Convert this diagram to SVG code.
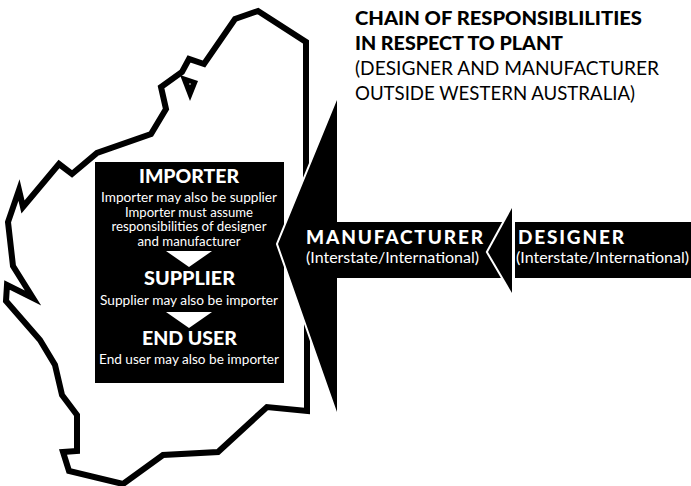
<svg xmlns="http://www.w3.org/2000/svg" width="691" height="486" viewBox="0 0 691 486">
<style>
text{font-family:Lato,"Noto Sans","Liberation Sans",sans-serif;text-anchor:middle}
.t{font-weight:900;font-size:18.5px;fill:#000;text-anchor:start}
.n{font-weight:400;font-size:18.5px;fill:#000;text-anchor:start}
.h{font-weight:900;font-size:19px;fill:#fff}
.b{font-size:13.5px;fill:#fff}
.s{font-weight:900;font-size:19px;fill:#fff;text-anchor:start}
.i{font-size:15px;fill:#fff;text-anchor:start}
.w{fill:#fff}
.a{fill:#000;stroke:#fff;stroke-width:4;paint-order:stroke;stroke-miterlimit:10}
</style>
<rect width="691" height="486" fill="#fff"/>
<g id="map"><path d="M306 190V42L258 11L235 19L204 64L189 59L182 72L161 87L166 109L151 134L97 153L72 174L59 164L23 207L19 190L8 222L13 266L33 298L7 285L6 301L40 340L55 365L62 395L77 415V451L63 452L69 471L123 484L163 455L218 452L267 407L307 411V320" fill="none" stroke="#000" stroke-width="6" stroke-linejoin="miter" stroke-miterlimit="6"/>
<path d="M180 75L198 81L190 101Z" fill="#000"/><circle cx="190" cy="84" r="0.8" fill="#fff"/></g>
<g id="title"><text class="t" x="355" y="25" textLength="287" lengthAdjust="spacingAndGlyphs">CHAIN OF RESPONSIBLILITIES</text>
<text class="t" x="355" y="50" textLength="208" lengthAdjust="spacingAndGlyphs">IN RESPECT TO PLANT</text>
<text class="n" x="355" y="75" textLength="304" lengthAdjust="spacingAndGlyphs">(DESIGNER AND MANUFACTURER</text>
<text class="n" x="355" y="100" textLength="280" lengthAdjust="spacingAndGlyphs">OUTSIDE WESTERN AUSTRALIA)</text></g>
<g id="box"><rect x="95" y="162" width="189" height="221" fill="#000"/>
<text class="h" x="189" y="183" textLength="100" lengthAdjust="spacingAndGlyphs">IMPORTER</text>
<text class="b" x="189" y="202" textLength="176" lengthAdjust="spacingAndGlyphs">Importer may also be supplier</text>
<text class="b" x="189" y="216.6" textLength="128" lengthAdjust="spacingAndGlyphs">Importer must assume</text>
<text class="b" x="189" y="231.2" textLength="155" lengthAdjust="spacingAndGlyphs">responsibilities of designer</text>
<text class="b" x="189" y="245.8" textLength="103" lengthAdjust="spacingAndGlyphs">and manufacturer</text>
<path class="w" d="M166 251H212L189 267Z"/>
<text class="h" x="189.500" y="285" textLength="91" lengthAdjust="spacingAndGlyphs">SUPPLIER</text>
<text class="b" x="189" y="305" textLength="178" lengthAdjust="spacingAndGlyphs">Supplier may also be importer</text>
<path class="w" d="M166 312H212L189 328Z"/>
<text class="h" x="189.500" y="345" textLength="95" lengthAdjust="spacingAndGlyphs">END USER</text>
<text class="b" x="189" y="364" textLength="180" lengthAdjust="spacingAndGlyphs">End user may also be importer</text></g>
<g id="connectors"><path class="a" d="M337 100L278 244L337 412V278H510V222H337Z"/>
<path class="a" d="M512 208L488 252L512 293Z"/></g>
<g id="manufacturer">
<text class="s" x="306" y="244" textLength="177" lengthAdjust="spacing">MANUFACTURER</text>
<text class="i" x="306" y="263" textLength="173" lengthAdjust="spacingAndGlyphs">(Interstate/International)</text></g>
<g id="designer"><rect x="515" y="222" width="176" height="56" fill="#000"/>
<text class="s" x="518" y="244" textLength="106" lengthAdjust="spacing">DESIGNER</text>
<text class="i" x="516" y="263" textLength="173" lengthAdjust="spacingAndGlyphs">(Interstate/International)</text></g>
</svg>
